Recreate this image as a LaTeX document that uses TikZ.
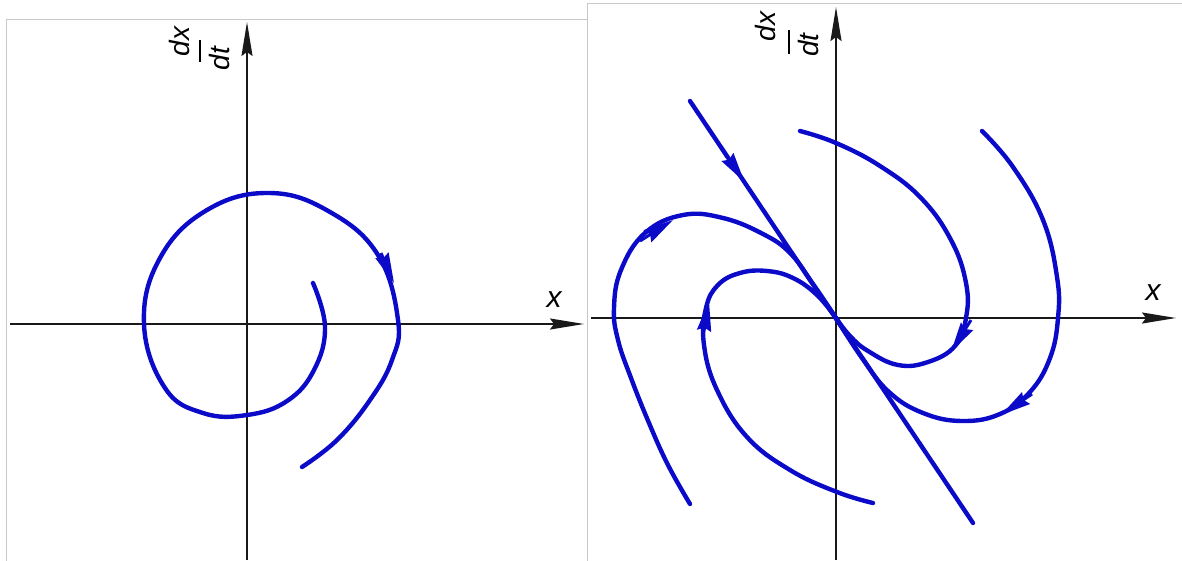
\documentclass[tikz,border=0pt]{standalone}
\usepackage{fontspec}
\newfontfamily\lblfont{Liberation Sans}
\usetikzlibrary{arrows.meta}
\definecolor{traj}{RGB}{10,10,200}
\definecolor{axiscol}{RGB}{25,25,25}
\definecolor{framecol}{RGB}{200,200,200}
\begin{document}
\begin{tikzpicture}[x=1pt,y=-1pt,
 curve/.style={draw=traj, line width=4.4pt, line cap=round, line join=round},
 axis/.style={draw=axiscol, line width=1.8pt, -{Stealth[length=34pt,width=11pt,inset=4pt]}},
 flowtip/.style={draw=traj, line width=3pt, -{Stealth[length=30pt,width=14pt,inset=3pt]}},
 frame/.style={draw=framecol, line width=1pt},
 lbl/.style={font=\lblfont\itshape\fontsize{30}{30}\selectfont, inner sep=0pt},
 dlbl/.style={font=\lblfont\itshape\fontsize{28}{28}\selectfont, inner sep=0pt, rotate=90},
 fracbar/.style={draw=black, line width=1.6pt},
]
\useasboundingbox (0,0) rectangle (1182,560);
% frames
\draw[frame] (6,565) -- (6,19) -- (587,19);
\draw[frame] (587,565) -- (587,3) -- (1185,3);

% ---------- left panel ----------
\coordinate (L0) at (10,324);
\coordinate (L1) at (584,324);
\coordinate (L2) at (247,560);
\coordinate (L3) at (247,22);
\draw[axis] (L0) -- (L1);
\draw[axis] (L2) -- (L3);
\node[lbl] (lx) at (554,300) {x};
\node[dlbl] (ldx) at (179.5,41.5) {dx};
\node[dlbl] (ldt) at (219.5,58.5) {dt};
\coordinate (lb1) at (200,40);
\coordinate (lb2) at (200,62);
\draw[fracbar] (lb1) -- (lb2);

\draw[curve] plot[smooth, tension=0.7] coordinates {
 (313,283) (325,327) (314,370) (287,401) (247,415) (203,413) (165,388)
 (144,324) (160,258) (207,210) (270,193) (330,212) (378,255) (398,320)
 (392,360) (370,400) (337,440) (302,467)};
\coordinate (la1) at (381,253);
\coordinate (la2) at (394,283);
\draw[flowtip] (la1) -- (la2);

% ---------- right panel ----------
\coordinate (R0) at (591,318);
\coordinate (R1) at (1176,318);
\coordinate (R2) at (836,560);
\coordinate (R3) at (836,7);
\draw[axis] (R0) -- (R1);
\draw[axis] (R2) -- (R3);
\node[lbl] (rx) at (1153,293) {x};
\node[dlbl] (rdx) at (765,26.5) {dx};
\node[dlbl] (rdt) at (808.5,45) {dt};
\coordinate (rb1) at (789,30);
\coordinate (rb2) at (789,54);
\draw[fracbar] (rb1) -- (rb2);

\coordinate (O) at (836,318);
% separatrix line
\coordinate (S1) at (690,101);
\coordinate (S2) at (973,523);
\draw[curve] (S1) -- (S2);
\coordinate (sa1) at (722,149);
\coordinate (sa2) at (744.5,182);
\draw[flowtip] (sa1) -- (sa2);

% curve A (outer left)
\draw[curve] plot[smooth, tension=0.7] coordinates {
 (690,504) (668,465) (649,423) (631,378) (618,340) (614,308) (621,270)
 (645,233) (683,215) (723,218) (763,234) (790,253) (813,284) (836,318)};
\coordinate (aa1) at (640,241);
\coordinate (aa2) at (673,220);
\draw[flowtip] (aa1) -- (aa2);

% curve B (inner left)
\draw[curve] plot[smooth, tension=0.7] coordinates {
 (873,503) (837,492) (790,470) (747,437) (717,390) (704,345) (706,308)
 (718,285) (740,273) (767,271) (793,278) (817,295) (836,318)};
\coordinate (ba1) at (703,337);
\coordinate (ba2) at (709,301);
\draw[flowtip] (ba1) -- (ba2);

% curve C (inner right)
\draw[curve] plot[smooth, tension=0.7] coordinates {
 (800,131) (836,143) (880,166) (921,198) (951,240) (966,283) (966,318)
 (955,346) (928,362) (898,365) (868,351) (850,336) (836,318)};
\coordinate (ca1) at (971,320);
\coordinate (ca2) at (951,352);
\draw[flowtip] (ca1) -- (ca2);

% curve D (outer right)
\draw[curve] plot[smooth, tension=0.7] coordinates {
 (982,131) (1013,167) (1043,220) (1057,277) (1058,318) (1050,358)
 (1030,392) (1000,414) (962,421) (923,413) (889,392) (862,358) (836,318)};
\coordinate (da1) at (1032,394);
\coordinate (da2) at (1001,415);
\draw[flowtip] (da1) -- (da2);
\end{tikzpicture}
\end{document}
